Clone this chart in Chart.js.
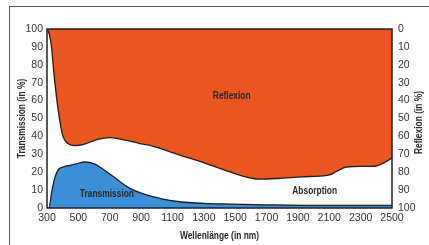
<!DOCTYPE html>
<html>
<head>
<meta charset="utf-8">
<script src="https://cdn.jsdelivr.net/npm/chart.js@4/dist/chart.umd.min.js"></script>
<style>
  html, body { margin: 0; padding: 0; background: #fff; }
  #wrap { position: relative; width: 429px; height: 245px; overflow: hidden; }
  #frame { position: absolute; left: 9px; top: 6px; width: 440px; height: 260px;
           border-top: 1px solid #555; border-left: 1px solid #555; }
  canvas { position: absolute; left: 0; top: 0; }
</style>
</head>
<body>
<div id="wrap">
  <div id="frame"></div>
  <canvas id="chart" width="429" height="245"></canvas>
</div>
<script>
// Transmission (left axis, %)
const transNm = [300, 312, 330, 350, 372, 400, 425, 480, 542, 606, 660, 722, 829, 935, 1040, 1147, 1300, 1465, 1700, 2000, 2300, 2500];
const transValues = [0, 0, 9, 17, 21.5, 22.8, 23.5, 24.5, 25.7, 24.5, 21.5, 17.6, 11, 7.3, 5, 3.5, 2.6, 2.2, 1.8, 1.5, 1.5, 1.5];

// Reflexion (right axis, %, reversed)
const reflNm = [300, 315, 330, 340, 362, 383, 402, 434, 478, 529, 618, 701, 783, 892, 956, 1147, 1275, 1357, 1487, 1657, 1805, 1975, 2102, 2145, 2209, 2300, 2379, 2464, 2500];
const reflValues = [0, 3, 11, 21, 39, 52, 60, 64, 65.2, 64.6, 61.8, 60.7, 61.8, 64, 65, 70.5, 74, 76.5, 80.5, 83.9, 83.3, 82.4, 81.5, 79.6, 77.1, 76.8, 76.8, 74, 72];

const xTicks = [300, 2500, 200];   // min, max, step
const yTicks = [0, 100, 10];

const boldFont = "bold 10.5px 'Liberation Sans', Arial, sans-serif";
const tickFont = { family: "'Liberation Sans', Arial, sans-serif", size: 10.5 };

// condensed bold text: squeeze Liberation Sans Bold horizontally
function narrowText(ctx, text, x, y, angle) {
  ctx.save();
  ctx.translate(x, y);
  if (angle) ctx.rotate(angle);
  ctx.scale(0.8, 1);
  ctx.fillText(text, 0, 0);
  ctx.restore();
}

const extras = {
  id: "extras",
  afterDatasetsDraw(chart) {
    const { ctx, chartArea: a, scales } = chart;
    ctx.save();
    ctx.strokeStyle = "#222";
    ctx.lineWidth = 1.5;
    ctx.strokeRect(a.left, a.top, a.right - a.left, a.bottom - a.top);

    ctx.fillStyle = "#2a2a2a";
    ctx.font = boldFont;
    ctx.textAlign = "center";
    ctx.textBaseline = "middle";
    narrowText(ctx, "Reflexion", scales.x.getPixelForValue(1478), scales.y.getPixelForValue(62.4));
    narrowText(ctx, "Transmission", scales.x.getPixelForValue(682), scales.y.getPixelForValue(7.9));
    narrowText(ctx, "Absorption", scales.x.getPixelForValue(2007), scales.y.getPixelForValue(9.2));

    const midY = (a.top + a.bottom) / 2;
    narrowText(ctx, "Transmission (in %)", 22, midY, -Math.PI / 2);
    narrowText(ctx, "Reflexion (in %)", 419, midY + 4, -Math.PI / 2);
    narrowText(ctx, "Wellenlänge (in nm)", (a.left + a.right) / 2, 236.5);
    ctx.restore();
  }
};

new Chart(document.getElementById("chart"), {
  type: "line",
  data: {
    datasets: [
      {
        label: "Reflexion",
        data: reflNm.map((x, i) => ({ x: x, y: reflValues[i] })),
        yAxisID: "yR",
        borderColor: "#1e1e1e",
        borderWidth: 1.3,
        backgroundColor: "#e9561f",
        fill: { value: 0 },
        pointRadius: 0,
        cubicInterpolationMode: "monotone"
      },
      {
        label: "Transmission",
        data: transNm.map((x, i) => ({ x: x, y: transValues[i] })),
        yAxisID: "y",
        borderColor: "#1e1e1e",
        borderWidth: 1.3,
        backgroundColor: "#3a8fd6",
        fill: "origin",
        pointRadius: 0,
        cubicInterpolationMode: "monotone"
      }
    ]
  },
  options: {
    responsive: false,
    animation: false,
    layout: { padding: { left: 10, right: 0, top: 29, bottom: 0 } },
    plugins: { legend: { display: false }, tooltip: { enabled: false } },
    scales: {
      x: {
        type: "linear",
        min: xTicks[0], max: xTicks[1],
        grid: { display: false, drawTicks: false },
        border: { display: false },
        ticks: { stepSize: xTicks[2], autoSkip: false, maxRotation: 0, padding: 4, color: "#333", font: tickFont,
                 callback: v => String(v) },
        afterFit(s) { s.height = 37; }
      },
      y: {
        position: "left",
        min: yTicks[0], max: yTicks[1],
        grid: { display: false, drawTicks: false },
        border: { display: false },
        ticks: { stepSize: yTicks[2], padding: 4, color: "#333", font: tickFont },
        afterFit(s) { s.width = 37; }
      },
      yR: {
        position: "right",
        reverse: true,
        min: yTicks[0], max: yTicks[1],
        grid: { display: false, drawTicks: false },
        border: { display: false },
        ticks: { stepSize: yTicks[2], padding: 6, color: "#333", font: tickFont },
        afterFit(s) { s.width = 37; }
      }
    }
  },
  plugins: [extras]
});
</script>
</body>
</html>
